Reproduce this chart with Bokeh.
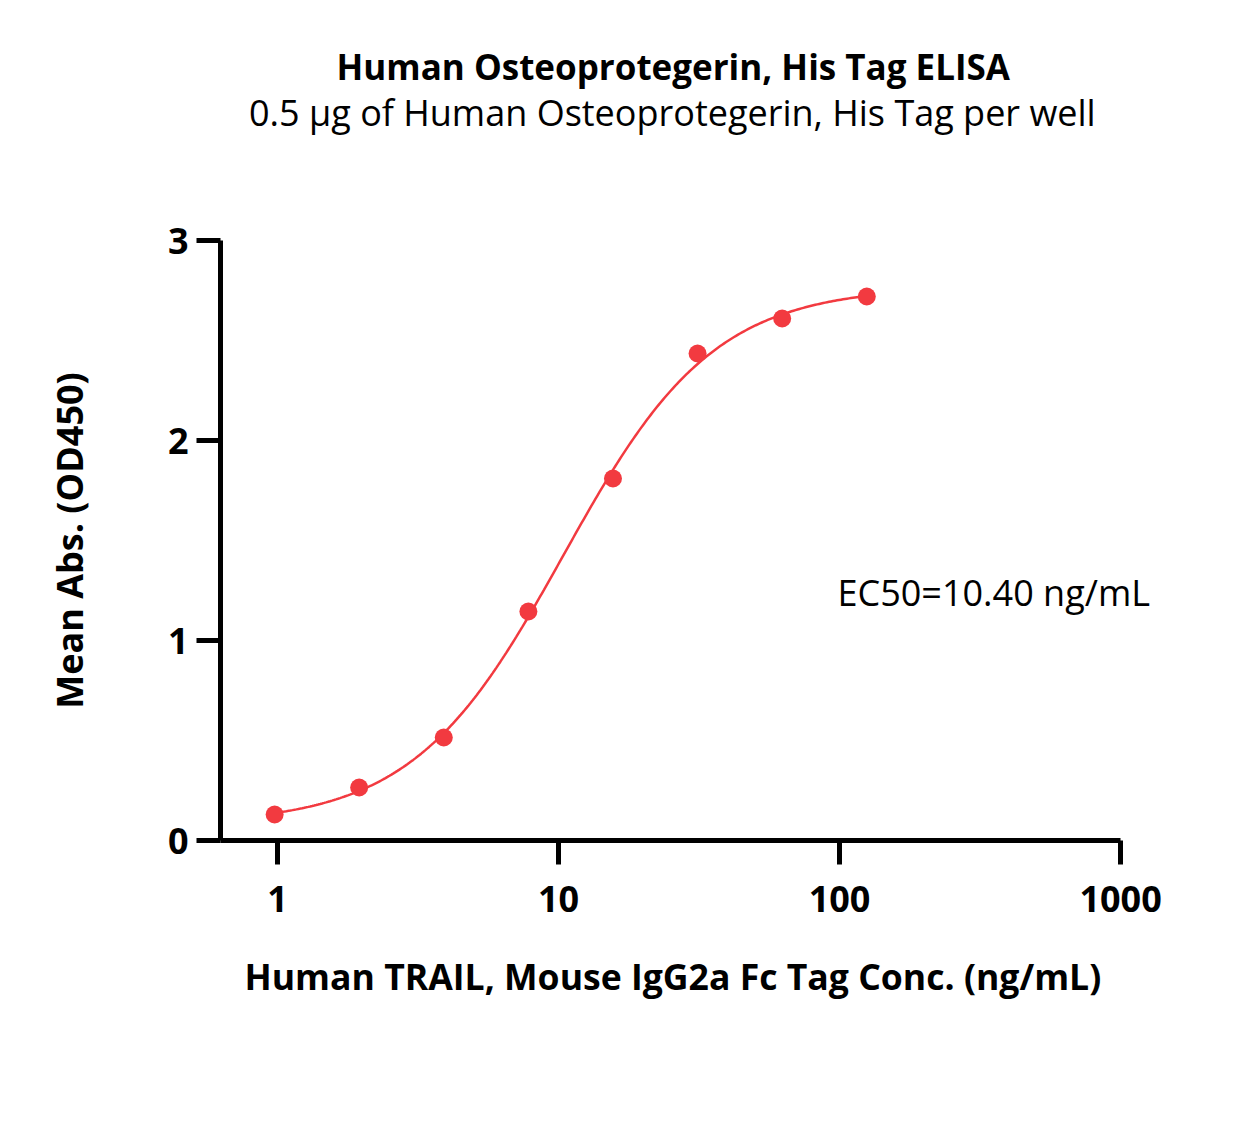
import numpy as np
from bokeh.plotting import figure
from bokeh.models import FixedTicker, Label, Title
from bokeh.embed import file_html
from bokeh.resources import INLINE

# ---- data ----
conc = [0.977, 1.953, 3.906, 7.813, 15.625, 31.25, 62.5, 125.0]
od450 = [0.13, 0.265, 0.515, 1.145, 1.81, 2.435, 2.61, 2.72]
ec50 = 10.40
x_ticks = [1, 10, 100, 1000]
x_tick_labels = ["1", "10", "100", "1000"]
y_ticks = [0, 1, 2, 3]

title_text = "Human Osteoprotegerin, His Tag ELISA"
subtitle_text = "0.5 \u03bcg of Human Osteoprotegerin, His Tag per well"
x_label = "Human TRAIL, Mouse IgG2a Fc Tag Conc. (ng/mL)"
y_label = "Mean Abs. (OD450)"
ec50_text = "EC50=10.40 ng/mL"

# ---- 4PL fit (EC50 fixed) by grid search ----
xd = np.array(conc)
yd = np.array(od450)
B = np.linspace(0.0, 0.2, 41)[:, None, None]
T = np.linspace(2.55, 2.95, 41)[None, :, None]
H = np.linspace(1.0, 2.0, 51)[None, None, :]
pred = B[..., None] + (T - B)[..., None] / (1 + (ec50 / xd) ** H[..., None])
sse = ((pred - yd) ** 2).sum(axis=-1)
i, j, k = np.unravel_index(np.argmin(sse), sse.shape)
bot, top, hill = B[i, 0, 0], T[0, j, 0], H[0, 0, k]
xc = np.logspace(np.log10(conc[0]), np.log10(conc[-1]), 300)
yc = bot + (top - bot) / (1 + (ec50 / xc) ** hill)

# ---- figure ----
W, H_ = 1245, 1146
L, R, TOP, BOT = 220, 80, 240, 306
xmin, xmax = 0.627, 1445.0      # frame extends past 1000 so the EC50 note is not clipped
axis_end = 1000.0
ymin, ymax = 0.0, 3.0
FONT = "Open Sans"
RED = "#F23A40"

p = figure(width=W, height=H_, x_axis_type="log", x_range=(xmin, xmax), y_range=(ymin, ymax),
           output_backend="svg", toolbar_location=None,
           min_border_left=L, min_border_right=R, min_border_top=TOP, min_border_bottom=BOT)
p.outline_line_color = None
p.grid.visible = False
p.background_fill_color = "white"
p.border_fill_color = "white"

p.line(xc, yc, line_color=RED, line_width=2.5)
p.scatter(conc, od450, size=18, fill_color=RED, line_color=RED, line_width=0)

for ax in (p.xaxis[0], p.yaxis[0]):
    ax.axis_line_width = 5
    ax.axis_line_color = "black"
    ax.major_tick_line_width = 5
    ax.major_tick_line_color = "black"
    ax.major_tick_out = 24
    ax.major_tick_in = 0
    ax.minor_tick_line_color = None
    ax.major_label_text_font = FONT
    ax.major_label_text_font_style = "bold"
    ax.major_label_text_font_size = "36px"
    ax.major_label_text_color = "black"
    ax.axis_label_text_font = FONT
    ax.axis_label_text_font_style = "bold"
    ax.axis_label_text_color = "black"

p.yaxis.axis_label_text_font_size = "36px"
p.xaxis.bounds = (xmin, axis_end)
p.xaxis.ticker = FixedTicker(ticks=x_ticks, minor_ticks=[])
p.xaxis.major_label_overrides = {t: s for t, s in zip(x_ticks, x_tick_labels)}
p.yaxis.ticker = FixedTicker(ticks=y_ticks, minor_ticks=[])
p.yaxis.axis_label = y_label
p.xaxis.major_label_standoff = 21
p.yaxis.major_label_standoff = 8
p.yaxis.axis_label_standoff = 71

# texts centred on x = 671.5 px, placed as left-aligned titles with an offset
p.add_layout(Title(text=" ", text_font_size="1px", standoff=101), "above")  # spacer
p.add_layout(Title(text=subtitle_text, align="left", text_font=FONT, text_font_style="normal",
                   text_font_size="36px", text_color="black", standoff=0,
                   offset=671 - 845 / 2 - L), "above")
p.add_layout(Title(text=title_text, align="left", text_font=FONT, text_font_style="bold",
                   text_font_size="35px", text_color="black", standoff=-8,
                   offset=671.5 - 671 / 2 - L), "above")
p.add_layout(Title(text=x_label, align="left", text_font=FONT, text_font_style="bold",
                   text_font_size="35.6px", text_color="black", standoff=70,
                   offset=671.5 - 855 / 2 - L), "below")

# pixel -> data helpers for text placement
def px_x(px):
    lo, hi = np.log10(xmin), np.log10(xmax)
    return 10 ** (lo + (px - L) / (W - L - R) * (hi - lo))

def px_y(py):
    return ymin + (H_ - BOT - py) / (H_ - BOT - TOP) * (ymax - ymin)

p.add_layout(Label(x=px_x(837), y=px_y(592), text=ec50_text, text_font=FONT,
                   text_font_size="36px", text_align="left",
                   text_baseline="middle", text_color="black"))

open("out.html", "w").write(file_html(p, INLINE))
